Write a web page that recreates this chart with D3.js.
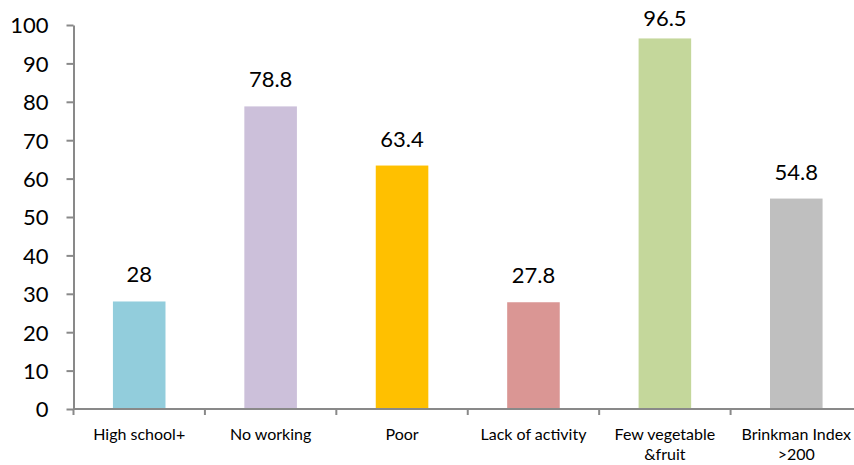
<!DOCTYPE html>
<html>
<head>
<meta charset="utf-8">
<script src="https://cdn.jsdelivr.net/npm/d3@7"></script>
<style>
html,body{margin:0;padding:0;background:#fff;}
svg{display:block;font-family:Lato, "Open Sans", sans-serif;}
</style>
</head>
<body>
<svg id="chart" width="854" height="465"></svg>
<script>
const categories = [["High school+"], ["No working"], ["Poor"], ["Lack of activity"], ["Few vegetable", "&fruit"], ["Brinkman Index", ">200"]];
const values = [28, 78.8, 63.4, 27.8, 96.5, 54.8];
const colors = ["#92CDDC", "#CCC0DA", "#FFC000", "#DA9694", "#C4D79B", "#BFBFBF"];
const yTicks = [0, 10, 20, 30, 40, 50, 60, 70, 80, 90, 100];

const svg = d3.select("#chart");
const mLeft = 73.5, mRight = 862, mTop = 25, mBottom = 409;
const axisColor = "#898989";

const x = d3.scaleBand().domain(d3.range(values.length)).range([mLeft, mRight]).paddingInner(0).paddingOuter(0);
const y = d3.scaleLinear().domain([0, 100]).range([mBottom, mTop]);
const barW = x.bandwidth() * 0.40;

// bars
svg.append("g").selectAll("rect").data(values).join("rect")
  .attr("x", (d, i) => x(i) + (x.bandwidth() - barW) / 2)
  .attr("y", d => y(d))
  .attr("width", barW)
  .attr("height", d => y(0) - y(d))
  .attr("fill", (d, i) => colors[i]);

// y axis
const yAxis = svg.append("g").attr("transform", `translate(${mLeft},0)`)
  .call(d3.axisLeft(y).tickValues(yTicks).tickSize(7).tickPadding(18).tickSizeOuter(0));
yAxis.select(".domain").attr("stroke", axisColor).attr("stroke-width", 2);
yAxis.selectAll(".tick line").attr("stroke", axisColor).attr("stroke-width", 2);
yAxis.selectAll(".tick text").attr("font-size", 22).attr("fill", "#000")
  .attr("font-family", "Lato, sans-serif").attr("dy", "0.36em");

// x axis
const xAxis = svg.append("g").attr("transform", `translate(0,${mBottom})`);
xAxis.append("line").attr("x1", mLeft).attr("x2", 854).attr("y1", 0).attr("y2", 0)
  .attr("stroke", axisColor).attr("stroke-width", 2);
const bounds = d3.range(values.length).map(i => x(i));
xAxis.selectAll("line.tk").data(bounds).join("line").attr("class", "tk")
  .attr("x1", d => d).attr("x2", d => d).attr("y1", 0).attr("y2", 6)
  .attr("stroke", axisColor).attr("stroke-width", 2);
const lbl = xAxis.selectAll("text").data(categories).join("text")
  .attr("text-anchor", "middle").attr("font-size", 16).attr("fill", "#000");
lbl.each(function(lines, i) {
  d3.select(this).selectAll("tspan").data(lines).join("tspan")
    .attr("x", x(i) + x.bandwidth() / 2)
    .attr("y", (l, j) => 31 + j * 20)
    .text(l => l);
});

// value labels
svg.append("g").selectAll("text").data(values).join("text")
  .attr("x", (d, i) => x(i) + x.bandwidth() / 2)
  .attr("y", d => Math.max(y(d) - 19, 26))
  .attr("text-anchor", "middle").attr("font-size", 22).attr("fill", "#000")
  .text(d => d);
</script>
</body>
</html>
